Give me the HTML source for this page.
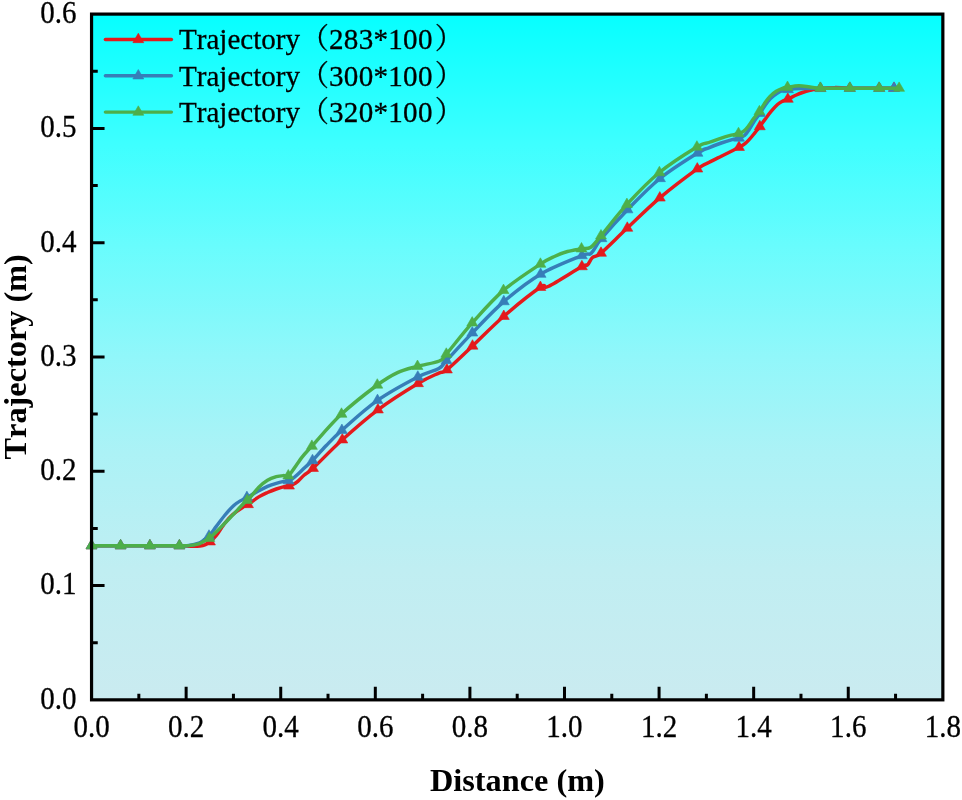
<!DOCTYPE html>
<html lang="en">
<head>
<meta charset="utf-8">
<title>Trajectory vs Distance</title>
<style>
html,body{margin:0;padding:0;background:#fff;}
body{width:962px;height:800px;overflow:hidden;}
svg{display:block;}
text{white-space:pre;font-kerning:none;}
.rg text{stroke:#000;stroke-width:0.3px;}
</style>
</head>
<body>
<svg width="962" height="800" viewBox="0 0 962 800">
<defs><linearGradient id="bg" x1="0" y1="0" x2="0" y2="1"><stop offset="0" stop-color="#06ffff"/><stop offset="0.19" stop-color="#3effff"/><stop offset="0.34" stop-color="#69fcfd"/><stop offset="0.5" stop-color="#91f7fa"/><stop offset="0.64" stop-color="#acf2f6"/><stop offset="0.81" stop-color="#c0eef2"/><stop offset="1" stop-color="#caebf0"/></linearGradient></defs>
<rect x="0" y="0" width="962" height="800" fill="#ffffff"/>
<rect x="91.55" y="14.1" width="851.3" height="685.75" fill="url(#bg)"/>
<path d="M138.84 699.85 v-6.2M186.14 699.85 v-13M233.43 699.85 v-6.2M280.73 699.85 v-13M328.02 699.85 v-6.2M375.32 699.85 v-13M422.61 699.85 v-6.2M469.91 699.85 v-13M517.2 699.85 v-6.2M564.49 699.85 v-13M611.79 699.85 v-6.2M659.08 699.85 v-13M706.38 699.85 v-6.2M753.67 699.85 v-13M800.97 699.85 v-6.2M848.26 699.85 v-13M895.56 699.85 v-6.2M91.55 642.7 h6.2M91.55 585.56 h13M91.55 528.41 h6.2M91.55 471.27 h13M91.55 414.12 h6.2M91.55 356.97 h13M91.55 299.83 h6.2M91.55 242.68 h13M91.55 185.54 h6.2M91.55 128.39 h13M91.55 71.25 h6.2" stroke="#000" stroke-width="3" fill="none"/>
<path d="M91.5 545.7C96.35 545.7 110.87 545.7 120.6 545.7C130.33 545.7 140.1 545.7 149.9 545.7C159.7 545.7 172.72 545.62 179.4 545.7C186.08 545.78 186.57 546.15 190 546.2C193.43 546.25 197.42 546.27 200 546C202.58 545.73 203.83 545.3 205.5 544.6C207.17 543.9 208.2 543.32 210 541.8C211.8 540.28 213.8 538.63 216.3 535.5C218.8 532.37 222.3 526.45 225 523C227.7 519.55 229.58 517.38 232.5 514.8C235.42 512.22 239.92 509.22 242.5 507.5C245.08 505.78 245.28 506.27 248 504.5C250.72 502.73 255.55 498.9 258.8 496.9C262.05 494.9 264.58 493.82 267.5 492.5C270.42 491.18 273.38 490.02 276.3 489C279.22 487.98 282.88 486.92 285 486.4C287.12 485.88 287.67 486.22 289 485.9C290.33 485.58 291.48 485.3 293 484.5C294.52 483.7 296.22 482.68 298.1 481.1C299.98 479.52 301.82 477.13 304.3 475C306.78 472.87 306.67 474.17 313 468.3C319.33 462.43 331.48 449.55 342.3 439.8C353.12 430.05 365.28 419.18 377.9 409.8C390.52 400.42 407.85 389.62 418 383.5C428.15 377.38 433.98 375.38 438.8 373.1C443.62 370.82 441.28 374.32 446.9 369.8C452.52 365.28 463.02 354.92 472.5 346C481.98 337.08 492.48 326.08 503.8 316.3C515.12 306.52 532.9 292.3 540.4 287.3C547.9 282.3 541.88 289.75 548.8 286.3C555.72 282.85 575.45 270.15 581.9 266.6C588.35 263.05 585.73 266.52 587.5 265C589.27 263.48 590.25 259.48 592.5 257.5C594.75 255.52 595.2 258 601 253.1C606.8 248.2 617.5 237.3 627.3 228.1C637.1 218.9 648.13 207.77 659.8 197.9C671.47 188.03 689.13 174.8 697.3 168.9C705.47 163 704.8 164.62 708.8 162.5C712.8 160.38 717.55 158.08 721.3 156.2C725.05 154.32 728.35 152.68 731.3 151.2C734.25 149.72 736.72 148.55 739 147.3C741.28 146.05 743.17 145.13 745 143.7C746.83 142.27 748.33 140.55 750 138.7C751.67 136.85 753.37 134.62 755 132.6C756.63 130.58 758.13 128.8 759.8 126.6C761.47 124.4 763.08 121.97 765 119.4C766.92 116.83 769.22 113.68 771.3 111.2C773.38 108.72 775.63 106.17 777.5 104.5C779.37 102.83 780.78 102.1 782.5 101.2C784.22 100.3 785.5 100.13 787.8 99.1C790.1 98.07 793.85 96.1 796.3 95C798.75 93.9 800.22 93.27 802.5 92.5C804.78 91.73 807.02 91.08 810 90.4C812.98 89.72 816.23 88.87 820.4 88.4C824.57 87.93 830.1 87.63 835 87.6C839.9 87.57 842.43 88.1 849.8 88.2C857.17 88.3 871.83 88.2 879.2 88.2C886.57 88.2 891.53 88.2 894 88.2" fill="none" stroke="#e41a1c" stroke-width="3.45" stroke-linecap="round" stroke-linejoin="round"/>
<path d="M91.5 539.41 l5.45 9.44 h-10.9 zM120.6 539.41 l5.45 9.44 h-10.9 zM149.9 539.41 l5.45 9.44 h-10.9 zM179.4 539.41 l5.45 9.44 h-10.9 zM210 535.51 l5.45 9.44 h-10.9 zM248 498.21 l5.45 9.44 h-10.9 zM289 479.61 l5.45 9.44 h-10.9 zM313 462.01 l5.45 9.44 h-10.9 zM342.3 433.51 l5.45 9.44 h-10.9 zM377.9 403.51 l5.45 9.44 h-10.9 zM418 377.21 l5.45 9.44 h-10.9 zM446.9 363.51 l5.45 9.44 h-10.9 zM472.5 339.71 l5.45 9.44 h-10.9 zM503.8 310.01 l5.45 9.44 h-10.9 zM540.4 281.01 l5.45 9.44 h-10.9 zM581.9 260.31 l5.45 9.44 h-10.9 zM601 246.81 l5.45 9.44 h-10.9 zM627.3 221.81 l5.45 9.44 h-10.9 zM659.8 191.61 l5.45 9.44 h-10.9 zM697.3 162.61 l5.45 9.44 h-10.9 zM739 141.01 l5.45 9.44 h-10.9 zM759.8 120.31 l5.45 9.44 h-10.9 zM787.8 92.81 l5.45 9.44 h-10.9 zM820.4 82.11 l5.45 9.44 h-10.9 zM849.8 81.91 l5.45 9.44 h-10.9 zM879.2 81.91 l5.45 9.44 h-10.9 zM894 81.91 l5.45 9.44 h-10.9 z" fill="#e41a1c" stroke="#e41a1c" stroke-width="0.6" stroke-linejoin="miter"/>

<path d="M91.5 545.7C96.35 545.7 110.87 545.7 120.6 545.7C130.33 545.7 140.1 545.7 149.9 545.7C159.7 545.7 172.92 545.73 179.4 545.7C185.88 545.67 185.57 545.92 188.8 545.5C192.03 545.08 196.18 544.2 198.8 543.2C201.42 542.2 202.8 540.7 204.5 539.5C206.2 538.3 207.03 538.18 209 536C210.97 533.82 213.63 529.9 216.3 526.4C218.97 522.9 222.08 518.5 225 515C227.92 511.5 231.17 507.8 233.8 505.4C236.43 503 238.62 501.93 240.8 500.6C242.98 499.27 243.9 499.03 246.9 497.4C249.9 495.77 255.37 492.63 258.8 490.8C262.23 488.97 264.58 487.65 267.5 486.4C270.42 485.15 273.38 484.18 276.3 483.3C279.22 482.42 282.97 481.53 285 481.1C287.03 480.67 287.33 481.02 288.5 480.7C289.67 480.38 290.4 480.3 292 479.2C293.6 478.1 296.05 475.97 298.1 474.1C300.15 472.23 301.9 470.27 304.3 468C306.7 465.73 308.88 464.2 312.5 460.5C316.12 456.8 321.1 450.83 326 445.8C330.9 440.77 333.32 437.87 341.9 430.3C350.48 422.73 364.85 409.28 377.5 400.4C390.15 391.52 407.58 382.32 417.8 377C428.02 371.68 434.02 371.25 438.8 368.5C443.58 365.75 440.92 366.43 446.5 360.5C452.08 354.57 462.75 342.72 472.3 332.9C481.85 323.08 492.42 311.38 503.8 301.6C515.18 291.82 527.58 281.87 540.6 274.2C553.62 266.53 573.45 259.12 581.9 255.6C590.35 252.08 588.03 255.95 591.3 253.1C594.57 250.25 595.47 245.73 601.5 238.5C607.53 231.27 617.75 219.7 627.5 209.7C637.25 199.7 648.33 187.93 660 178.5C671.67 169.07 689.37 158.22 697.5 153.1C705.63 147.98 704.83 149.48 708.8 147.8C712.77 146.12 717.55 144.33 721.3 143C725.05 141.67 728.35 140.63 731.3 139.8C734.25 138.97 736.8 138.72 739 138C741.2 137.28 742.75 137 744.5 135.5C746.25 134 747.83 131.47 749.5 129C751.17 126.53 752.75 123.32 754.5 120.7C756.25 118.08 758.17 115.97 760 113.3C761.83 110.63 763.75 107.17 765.5 104.7C767.25 102.23 768.62 100.37 770.5 98.5C772.38 96.63 774.72 94.83 776.8 93.5C778.88 92.17 781.13 91.17 783 90.5C784.87 89.83 785.17 89.83 788 89.5C790.83 89.17 794.6 88.72 800 88.5C805.4 88.28 812.1 88.25 820.4 88.2C828.7 88.15 840 88.2 849.8 88.2C859.6 88.2 871.83 88.2 879.2 88.2C886.57 88.2 891.53 88.2 894 88.2" fill="none" stroke="#377eb8" stroke-width="3.45" stroke-linecap="round" stroke-linejoin="round"/>
<path d="M91.5 539.41 l5.45 9.44 h-10.9 zM120.6 539.41 l5.45 9.44 h-10.9 zM149.9 539.41 l5.45 9.44 h-10.9 zM179.4 539.41 l5.45 9.44 h-10.9 zM209 529.71 l5.45 9.44 h-10.9 zM246.9 491.11 l5.45 9.44 h-10.9 zM288.5 474.41 l5.45 9.44 h-10.9 zM312.5 454.21 l5.45 9.44 h-10.9 zM341.9 424.01 l5.45 9.44 h-10.9 zM377.5 394.11 l5.45 9.44 h-10.9 zM417.8 370.71 l5.45 9.44 h-10.9 zM446.5 354.21 l5.45 9.44 h-10.9 zM472.3 326.61 l5.45 9.44 h-10.9 zM503.8 295.31 l5.45 9.44 h-10.9 zM540.6 267.91 l5.45 9.44 h-10.9 zM581.9 249.31 l5.45 9.44 h-10.9 zM601.5 232.21 l5.45 9.44 h-10.9 zM627.5 203.41 l5.45 9.44 h-10.9 zM660 172.21 l5.45 9.44 h-10.9 zM697.5 146.81 l5.45 9.44 h-10.9 zM739 131.71 l5.45 9.44 h-10.9 zM760 107.01 l5.45 9.44 h-10.9 zM788 83.21 l5.45 9.44 h-10.9 zM820.4 81.91 l5.45 9.44 h-10.9 zM849.8 81.91 l5.45 9.44 h-10.9 zM879.2 81.91 l5.45 9.44 h-10.9 zM894 81.91 l5.45 9.44 h-10.9 z" fill="#377eb8" stroke="#377eb8" stroke-width="0.6" stroke-linejoin="miter"/>

<path d="M91.5 545.7C96.35 545.7 110.87 545.7 120.6 545.7C130.33 545.7 140.1 545.7 149.9 545.7C159.7 545.7 172.92 545.72 179.4 545.7C185.88 545.68 185.57 545.92 188.8 545.6C192.03 545.28 196.1 544.6 198.8 543.8C201.5 543 203.23 541.72 205 540.8C206.77 539.88 206.9 540.4 209.4 538.3C211.9 536.2 216.15 532.03 220 528.2C223.85 524.37 228.75 519.2 232.5 515.3C236.25 511.4 240.05 507.28 242.5 504.8C244.95 502.32 245.95 501.58 247.2 500.4C248.45 499.22 248.07 499.9 250 497.7C251.93 495.5 255.88 490.12 258.8 487.2C261.72 484.28 264.58 481.95 267.5 480.2C270.42 478.45 273.67 477.47 276.3 476.7C278.93 475.93 281.3 475.75 283.3 475.6C285.3 475.45 286.55 476.92 288.3 475.8C290.05 474.68 291.43 472.1 293.8 468.9C296.17 465.7 299.48 460.38 302.5 456.6C305.52 452.82 305.4 453.28 311.9 446.2C318.4 439.12 330.6 424.3 341.5 414.1C352.4 403.9 367.97 391.92 377.3 385C386.63 378.08 390.8 375.72 397.5 372.6C404.2 369.48 410.52 368.23 417.5 366.3C424.48 364.37 434.6 363.03 439.4 361C444.2 358.97 440.83 360.45 446.3 354.1C451.77 347.75 462.67 333.52 472.2 322.9C481.73 312.28 492.13 300.2 503.5 290.4C514.87 280.6 531.82 269.8 540.4 264.1C548.98 258.4 550.48 258.3 555 256.2C559.52 254.1 563.08 252.73 567.5 251.5C571.92 250.27 577.62 249.52 581.5 248.8C585.38 248.08 587.55 249.37 590.8 247.2C594.05 245.03 594.98 242.93 601 235.8C607.02 228.67 617.17 214.95 626.9 204.4C636.63 193.85 647.73 182.07 659.4 172.5C671.07 162.93 688.67 152 696.9 147C705.13 142 704.73 143.98 708.8 142.5C712.87 141.02 717.55 139.32 721.3 138.1C725.05 136.88 728.43 135.97 731.3 135.2C734.17 134.43 736.42 134.17 738.5 133.5C740.58 132.83 742.08 132.52 743.8 131.2C745.52 129.88 747.13 127.75 748.8 125.6C750.47 123.45 752.03 120.63 753.8 118.3C755.57 115.97 757.53 114.18 759.4 111.6C761.27 109.02 763.23 105.33 765 102.8C766.77 100.27 768.12 98.32 770 96.4C771.88 94.48 774.22 92.65 776.3 91.3C778.38 89.95 780.63 88.97 782.5 88.3C784.37 87.63 784.78 87.72 787.5 87.3C790.22 86.88 795.05 85.85 798.8 85.8C802.55 85.75 806.4 86.6 810 87C813.6 87.4 813.77 88 820.4 88.2C827.03 88.4 840 88.2 849.8 88.2C859.6 88.2 870.98 88.2 879.2 88.2C887.42 88.2 895.78 88.2 899.1 88.2" fill="none" stroke="#4daf4a" stroke-width="3.45" stroke-linecap="round" stroke-linejoin="round"/>
<path d="M91.5 539.41 l5.45 9.44 h-10.9 zM120.6 539.41 l5.45 9.44 h-10.9 zM149.9 539.41 l5.45 9.44 h-10.9 zM179.4 539.41 l5.45 9.44 h-10.9 zM209.4 532.01 l5.45 9.44 h-10.9 zM247.2 494.11 l5.45 9.44 h-10.9 zM288.3 469.51 l5.45 9.44 h-10.9 zM311.9 439.91 l5.45 9.44 h-10.9 zM341.5 407.81 l5.45 9.44 h-10.9 zM377.3 378.71 l5.45 9.44 h-10.9 zM417.5 360.01 l5.45 9.44 h-10.9 zM446.3 347.81 l5.45 9.44 h-10.9 zM472.2 316.61 l5.45 9.44 h-10.9 zM503.5 284.11 l5.45 9.44 h-10.9 zM540.4 257.81 l5.45 9.44 h-10.9 zM581.5 242.51 l5.45 9.44 h-10.9 zM601 229.51 l5.45 9.44 h-10.9 zM626.9 198.11 l5.45 9.44 h-10.9 zM659.4 166.21 l5.45 9.44 h-10.9 zM696.9 140.71 l5.45 9.44 h-10.9 zM738.5 127.21 l5.45 9.44 h-10.9 zM759.4 105.31 l5.45 9.44 h-10.9 zM787.5 81.01 l5.45 9.44 h-10.9 zM820.4 81.91 l5.45 9.44 h-10.9 zM849.8 81.91 l5.45 9.44 h-10.9 zM879.2 81.91 l5.45 9.44 h-10.9 zM899.1 81.91 l5.45 9.44 h-10.9 z" fill="#4daf4a" stroke="#4daf4a" stroke-width="0.6" stroke-linejoin="miter"/>

<rect x="91.55" y="14.1" width="851.3" height="685.75" fill="none" stroke="#000" stroke-width="3.2"/>
<g class="rg" font-family="'Liberation Serif', serif" font-size="30.4" fill="#000">
<text transform="translate(91.55 737.2) scale(0.955 1.02)" text-anchor="middle">0.0</text>
<text transform="translate(186.14 737.2) scale(0.955 1.02)" text-anchor="middle">0.2</text>
<text transform="translate(280.73 737.2) scale(0.955 1.02)" text-anchor="middle">0.4</text>
<text transform="translate(375.32 737.2) scale(0.955 1.02)" text-anchor="middle">0.6</text>
<text transform="translate(469.91 737.2) scale(0.955 1.02)" text-anchor="middle">0.8</text>
<text transform="translate(564.49 737.2) scale(0.955 1.02)" text-anchor="middle">1.0</text>
<text transform="translate(659.08 737.2) scale(0.955 1.02)" text-anchor="middle">1.2</text>
<text transform="translate(753.67 737.2) scale(0.955 1.02)" text-anchor="middle">1.4</text>
<text transform="translate(848.26 737.2) scale(0.955 1.02)" text-anchor="middle">1.6</text>
<text transform="translate(942.85 737.2) scale(0.955 1.02)" text-anchor="middle">1.8</text>
<text transform="translate(76.5 708.75) scale(0.955 1.02)" text-anchor="end">0.0</text>
<text transform="translate(76.5 594.46) scale(0.955 1.02)" text-anchor="end">0.1</text>
<text transform="translate(76.5 480.17) scale(0.955 1.02)" text-anchor="end">0.2</text>
<text transform="translate(76.5 365.87) scale(0.955 1.02)" text-anchor="end">0.3</text>
<text transform="translate(76.5 251.58) scale(0.955 1.02)" text-anchor="end">0.4</text>
<text transform="translate(76.5 137.29) scale(0.955 1.02)" text-anchor="end">0.5</text>
<text transform="translate(76.5 23) scale(0.955 1.02)" text-anchor="end">0.6</text>
</g>
<g font-family="'Liberation Serif', serif" font-size="32.3" font-weight="bold" fill="#000">
<text x="517.4" y="790.5" text-anchor="middle">Distance (m)</text>
<text transform="translate(26.4 356.8) rotate(-90)" text-anchor="middle">Trajectory (m)</text>
</g>
<g class="rg" font-family="'Liberation Serif', 'Noto Serif CJK SC', serif" font-size="29.05" fill="#000">
<path d="M105.4 39.5 H171.4" stroke="#e41a1c" stroke-width="3.45" stroke-linecap="round" fill="none"/>
<path d="M138.3 33.21 l5.45 9.44 h-10.9 z" fill="#e41a1c" stroke="#e41a1c" stroke-width="0.6"/>
<text x="179.0" y="49.2">Trajectory<tspan class="fw">（</tspan><tspan letter-spacing="0.3">283*100</tspan><tspan class="fw" dx="2">）</tspan></text>
<path d="M105.4 75.8 H171.4" stroke="#377eb8" stroke-width="3.45" stroke-linecap="round" fill="none"/>
<path d="M138.3 69.51 l5.45 9.44 h-10.9 z" fill="#377eb8" stroke="#377eb8" stroke-width="0.6"/>
<text x="179.0" y="85.5">Trajectory<tspan class="fw">（</tspan><tspan letter-spacing="0.3">300*100</tspan><tspan class="fw" dx="2">）</tspan></text>
<path d="M105.4 112.1 H171.4" stroke="#4daf4a" stroke-width="3.45" stroke-linecap="round" fill="none"/>
<path d="M138.3 105.81 l5.45 9.44 h-10.9 z" fill="#4daf4a" stroke="#4daf4a" stroke-width="0.6"/>
<text x="179.0" y="121.8">Trajectory<tspan class="fw">（</tspan><tspan letter-spacing="0.3">320*100</tspan><tspan class="fw" dx="2">）</tspan></text>
</g>
</svg>
</body>
</html>
